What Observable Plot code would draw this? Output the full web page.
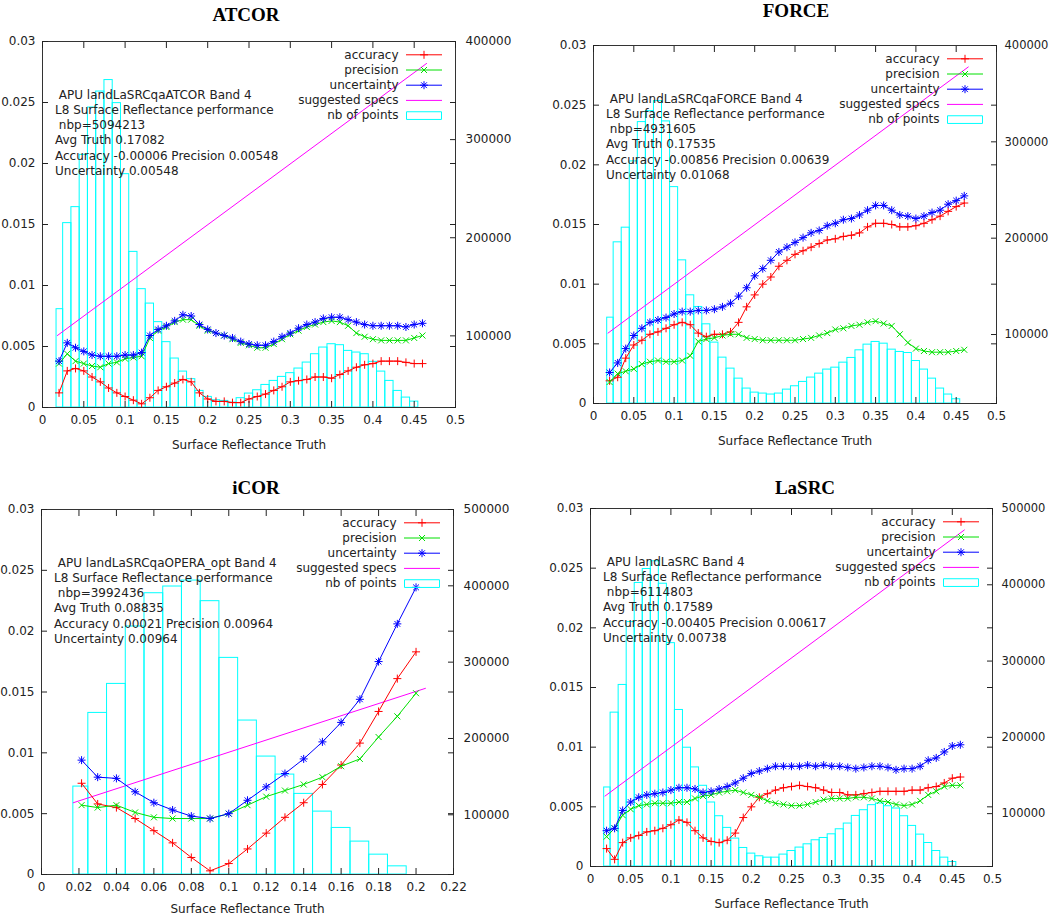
<!DOCTYPE html>
<html><head><meta charset="utf-8">
<script src="https://cdn.jsdelivr.net/npm/d3@7"></script>
<script src="https://cdn.jsdelivr.net/npm/@observablehq/plot@0.6"></script>
<style>
body{margin:0;background:#fff;}
#root{position:relative;width:1050px;height:917px;overflow:hidden;}
.panel{position:absolute;}
.panel svg{position:absolute;left:0;top:0;overflow:visible;}
.title{position:absolute;font-family:"Liberation Serif",serif;font-weight:bold;font-size:19px;transform:translate(-50%,-50%);white-space:nowrap;color:#000;}
</style></head><body><div id="root"></div>
<script>
// ---------- data ----------
const truthFull = [0.02,0.03,0.04,0.05,0.06,0.07,0.08,0.09,0.10,0.11,0.12,0.13,0.14,0.15,0.16,0.17,0.18,0.19,0.20,0.21,0.22,0.23,0.24,0.25,0.26,0.27,0.28,0.29,0.30,0.31,0.32,0.33,0.34,0.35,0.36,0.37,0.38,0.39,0.40,0.41,0.42,0.43,0.44,0.45,0.46];
const binsFull = [0.02,0.03,0.04,0.05,0.06,0.07,0.08,0.09,0.10,0.11,0.12,0.13,0.14,0.15,0.16,0.17,0.18,0.19,0.20,0.21,0.22,0.23,0.24,0.25,0.26,0.27,0.28,0.29,0.30,0.31,0.32,0.33,0.34,0.35,0.36,0.37,0.38,0.39,0.40,0.41,0.42,0.43,0.44,0.45];
const truthIcor = [0.0214,0.03,0.04,0.05,0.06,0.07,0.08,0.09,0.10,0.11,0.12,0.13,0.14,0.15,0.16,0.17,0.18,0.19,0.20];
const binsIcor = [0.02,0.03,0.04,0.05,0.06,0.07,0.08,0.09,0.10,0.11,0.12,0.13,0.14,0.15,0.16,0.17,0.18,0.19];

const atcorAccuracy = [0.0012,0.0030,0.0032,0.0030,0.0025,0.0021,0.0016,0.0012,0.0009,0.0006,0.0003,0.0008,0.0014,0.0017,0.0020,0.0023,0.0021,0.0012,0.0007,0.0005,0.0005,0.0004,0.0004,0.0007,0.0009,0.0011,0.0014,0.0017,0.0021,0.0022,0.0023,0.0025,0.0025,0.0024,0.0027,0.0030,0.0033,0.0035,0.0036,0.0038,0.0038,0.0038,0.0037,0.0036,0.0036];
const atcorPrecision = [0.0036,0.0044,0.0038,0.0036,0.0034,0.0033,0.0036,0.0037,0.0040,0.0041,0.0042,0.0057,0.0063,0.0066,0.0070,0.0072,0.0072,0.0067,0.0063,0.0061,0.0059,0.0056,0.0053,0.0051,0.0049,0.0049,0.0052,0.0056,0.0060,0.0063,0.0066,0.0068,0.0070,0.0071,0.0070,0.0067,0.0061,0.0058,0.0056,0.0055,0.0055,0.0055,0.0055,0.0057,0.0059];
const atcorUncertainty = [0.0038,0.0053,0.0049,0.0046,0.0043,0.0042,0.0042,0.0042,0.0043,0.0043,0.0045,0.0059,0.0064,0.0067,0.0071,0.0076,0.0075,0.0068,0.0064,0.0061,0.0059,0.0057,0.0054,0.0052,0.0051,0.0051,0.0054,0.0058,0.0061,0.0065,0.0068,0.0070,0.0073,0.0074,0.0074,0.0072,0.0070,0.0068,0.0067,0.0067,0.0067,0.0067,0.0066,0.0068,0.0069];
const atcorCount = [127200,214900,231200,284500,332700,349000,360700,337200,264800,185600,147600,132900,114000,93600,76900,63600,55900,43900,37800,34400,33700,32000,36500,41200,44600,50000,54100,58200,62000,66700,72800,81300,88100,91500,90500,84700,83000,81300,73500,63600,54100,43900,37100,33000];

const forceAccuracy = [0.0019,0.0022,0.0038,0.0049,0.0053,0.0058,0.0060,0.0063,0.0066,0.0068,0.0066,0.0059,0.0056,0.0058,0.0058,0.0060,0.0068,0.0081,0.0091,0.0100,0.0106,0.0115,0.0120,0.0125,0.0128,0.0131,0.0134,0.0137,0.0138,0.0140,0.0141,0.0143,0.0148,0.0151,0.0151,0.0150,0.0148,0.0148,0.0149,0.0151,0.0154,0.0157,0.0161,0.0165,0.0168];
const forcePrecision = [0.0018,0.0025,0.0027,0.0029,0.0033,0.0035,0.0036,0.0035,0.0035,0.0036,0.0040,0.0052,0.0054,0.0055,0.0057,0.0058,0.0058,0.0055,0.0054,0.0053,0.0053,0.0053,0.0053,0.0053,0.0054,0.0055,0.0057,0.0059,0.0062,0.0063,0.0065,0.0066,0.0068,0.0069,0.0067,0.0065,0.0058,0.0051,0.0046,0.0044,0.0043,0.0043,0.0043,0.0044,0.0045];
const forceUncertainty = [0.0026,0.0034,0.0046,0.0057,0.0063,0.0068,0.0070,0.0072,0.0075,0.0077,0.0077,0.0078,0.0078,0.0079,0.0081,0.0084,0.0090,0.0097,0.0107,0.0113,0.0120,0.0127,0.0131,0.0135,0.0139,0.0143,0.0145,0.0149,0.0151,0.0154,0.0155,0.0158,0.0162,0.0166,0.0166,0.0162,0.0158,0.0157,0.0155,0.0157,0.0160,0.0162,0.0167,0.0170,0.0174];
const forceCount = [117500,195700,210900,279700,320500,331900,342300,321200,253000,177000,140700,128600,110600,91600,76000,64600,54200,43900,39700,38700,37700,38700,42800,46300,50800,55300,59400,63600,65600,70800,75700,83600,89500,92300,90500,84300,81900,80800,72500,63600,54200,43900,37700,32800];

const icorAccuracy = [0.0075,0.0058,0.0055,0.0046,0.0036,0.0026,0.0014,0.0003,0.0009,0.0021,0.0034,0.0047,0.0059,0.0074,0.0090,0.0108,0.0134,0.0161,0.0183];
const icorPrecision = [0.0057,0.0055,0.0057,0.0051,0.0047,0.0046,0.0046,0.0046,0.0050,0.0057,0.0064,0.0069,0.0074,0.0080,0.0089,0.0095,0.0113,0.0130,0.0149];
const icorUncertainty = [0.0094,0.0080,0.0079,0.0068,0.0059,0.0053,0.0048,0.0046,0.0050,0.0061,0.0072,0.0083,0.0095,0.0109,0.0125,0.0144,0.0175,0.0206,0.0236];
const icorCount = [137000,233500,271500,346700,390300,399100,406900,379900,305600,223500,176300,152700,127400,104200,82800,64900,47800,32500];

const lasrcAccuracy = [0.0015,0.0006,0.0020,0.0024,0.0026,0.0029,0.0030,0.0032,0.0035,0.0039,0.0037,0.0030,0.0024,0.0021,0.0020,0.0022,0.0028,0.0041,0.0050,0.0058,0.0061,0.0064,0.0066,0.0067,0.0068,0.0067,0.0066,0.0064,0.0062,0.0062,0.0060,0.0060,0.0061,0.0062,0.0063,0.0063,0.0063,0.0063,0.0064,0.0064,0.0066,0.0067,0.0070,0.0074,0.0075];
const lasrcPrecision = [0.0025,0.0032,0.0043,0.0048,0.0051,0.0052,0.0053,0.0053,0.0053,0.0054,0.0054,0.0057,0.0059,0.0060,0.0062,0.0063,0.0064,0.0062,0.0060,0.0058,0.0055,0.0053,0.0052,0.0051,0.0051,0.0052,0.0054,0.0056,0.0057,0.0057,0.0057,0.0058,0.0058,0.0057,0.0055,0.0054,0.0052,0.0051,0.0052,0.0055,0.0060,0.0063,0.0067,0.0068,0.0068];
const lasrcUncertainty = [0.0030,0.0032,0.0047,0.0054,0.0058,0.0060,0.0061,0.0062,0.0064,0.0066,0.0066,0.0065,0.0062,0.0063,0.0065,0.0067,0.0070,0.0074,0.0078,0.0080,0.0082,0.0084,0.0084,0.0084,0.0084,0.0085,0.0084,0.0085,0.0084,0.0084,0.0083,0.0082,0.0083,0.0084,0.0084,0.0083,0.0081,0.0082,0.0082,0.0084,0.0089,0.0091,0.0096,0.0101,0.0102];
const lasrcCount = [134300,232400,268700,351100,402400,420700,430800,401400,323500,235900,186400,160600,136500,114600,96600,81300,67300,55000,47600,44100,42300,42300,46300,51000,55500,59800,65100,68100,72900,79500,87000,97000,104500,111100,113300,109700,106700,96600,83900,72500,61500,51000,42300,36600];

const specXFull = [0.018, 0.465];
const specYFull = [0.0059, 0.0282];
const specXIcor = [0.017, 0.205];
const specYIcor = [0.0059, 0.0153];

const xTicksFull = [0,0.05,0.1,0.15,0.2,0.25,0.3,0.35,0.4,0.45,0.5];
const xTicksIcor = [0,0.02,0.04,0.06,0.08,0.1,0.12,0.14,0.16,0.18,0.2,0.22];
const yTicks = [0,0.005,0.01,0.015,0.02,0.025,0.03];
const y2Ticks4 = [100000,200000,300000,400000];
const y2Ticks5 = [100000,200000,300000,400000,500000];

const titles = ["ATCOR","FORCE","iCOR","LaSRC"];
const legendLabels = ["accuracy","precision","uncertainty","suggested specs","nb of points"];
const xLabel = "Surface Reflectance Truth";
const notesAtcor = ["\u00a0APU landLaSRCqaATCOR Band 4","L8 Surface Reflectance performance","\u00a0nbp=5094213","Avg Truth 0.17082","Accuracy -0.00006 Precision 0.00548","Uncertainty 0.00548"];
const notesForce = ["\u00a0APU landLaSRCqaFORCE Band 4","L8 Surface Reflectance performance","\u00a0nbp=4931605","Avg Truth 0.17535","Accuracy -0.00856 Precision 0.00639","Uncertainty 0.01068"];
const notesIcor = ["\u00a0APU landLaSRCqaOPERA_opt Band 4","L8 Surface Reflectance performance","\u00a0nbp=3992436","Avg Truth 0.08835","Accuracy 0.00021 Precision 0.00964","Uncertainty 0.00964"];
const notesLasrc = ["\u00a0APU landLaSRC Band 4","L8 Surface Reflectance performance","\u00a0nbp=6114803","Avg Truth 0.17589","Accuracy -0.00405 Precision 0.00617","Uncertainty 0.00738"];

// ---------- layout ----------
const panels = [
  {title: titles[0], notes: notesAtcor, truth: truthFull, bins: binsFull, acc: atcorAccuracy, prec: atcorPrecision, unc: atcorUncertainty, count: atcorCount, specX: specXFull, specY: specYFull, xMax: 0.5, xTicks: xTicksFull, y2Domain: [27000, 400000], y2Ticks: y2Ticks4,
   left: 0, frame: [42, 41, 455, 407], titlePos: [246, 15], y2Pad: 16, y2Font: "12px", xLabelDy: 38},
  {title: titles[1], notes: notesForce, truth: truthFull, bins: binsFull, acc: forceAccuracy, prec: forcePrecision, unc: forceUncertainty, count: forceCount, specX: specXFull, specY: specYFull, xMax: 0.5, xTicks: xTicksFull, y2Domain: [28400, 400000], y2Ticks: y2Ticks4,
   left: 525, frame: [593, 45, 996, 403], titlePos: [796, 11], y2Pad: 14, y2Font: "11.5px", xLabelDy: 38},
  {title: titles[2], notes: notesIcor, truth: truthIcor, bins: binsIcor, acc: icorAccuracy, prec: icorPrecision, unc: icorUncertainty, count: icorCount, specX: specXIcor, specY: specYIcor, xMax: 0.22, xTicks: xTicksIcor, y2Domain: [21800, 500000], y2Ticks: y2Ticks5,
   left: 0, frame: [41, 509, 453, 874], titlePos: [256, 488], y2Pad: 16, y2Font: "12px", xLabelDy: 35},
  {title: titles[3], notes: notesLasrc, truth: truthFull, bins: binsFull, acc: lasrcAccuracy, prec: lasrcPrecision, unc: lasrcUncertainty, count: lasrcCount, specX: specXFull, specY: specYFull, xMax: 0.5, xTicks: xTicksFull, y2Domain: [30700, 500000], y2Ticks: y2Ticks5,
   left: 525, frame: [590, 508, 992, 866], titlePos: [805, 488], y2Pad: 15, y2Font: "11.5px", xLabelDy: 38}
];

const COLORS = {acc: "#ff0000", prec: "#00e000", unc: "#0000ff", spec: "#ff00ff", bars: "#00ffff"};
const symPlus = {draw(c, s){ const r = Math.sqrt(s/Math.PI); c.moveTo(-r,0); c.lineTo(r,0); c.moveTo(0,-r); c.lineTo(0,r); }};
const symTimes = {draw(c, s){ const r = Math.sqrt(s/Math.PI)*0.75; c.moveTo(-r,-r); c.lineTo(r,r); c.moveTo(-r,r); c.lineTo(r,-r); }};
const symStar = {draw(c, s){ const r = Math.sqrt(s/Math.PI); const q = r*0.72; c.moveTo(-r,0); c.lineTo(r,0); c.moveTo(0,-r); c.lineTo(0,r); c.moveTo(-q,-q); c.lineTo(q,q); c.moveTo(-q,q); c.lineTo(q,-q); }};
const symHLine = {draw(c, s){ const r = Math.sqrt(s/Math.PI); c.moveTo(-r,0); c.lineTo(r,0); }};
const symBox = {draw(c, s){ const r = Math.sqrt(s/Math.PI); c.rect(-r, -r*0.22, 2*r, r*0.44); }};
const fmt = d => d === 0 ? "0" : String(+d.toFixed(3));

const root = document.getElementById("root");
const W = 525;

for (const p of panels) {
  const top = p.frame[1] - 20;
  const H = p.frame[3] + 60 - top;
  const margins = {marginLeft: p.frame[0] - p.left, marginRight: p.left + W - p.frame[2], marginTop: 20, marginBottom: 60};
  const style = {background: "none", fontFamily: "DejaVu Sans", fontSize: "12px", color: "#222", overflow: "visible"};
  const div = document.createElement("div");
  div.className = "panel";
  Object.assign(div.style, {left: p.left + "px", top: top + "px", width: W + "px", height: H + "px"});

  const binT = p.bins.map((c, i) => ({x1: i === 0 ? 0.017 : c - 0.005, x2: c + 0.005, n: p.count[i]}));
  const bars = Plot.plot({
    width: W, height: H, ...margins, style,
    x: {domain: [0, p.xMax], axis: null, label: null},
    y: {domain: p.y2Domain, axis: null, label: null},
    marks: [
      Plot.rectY(binT, {x1: "x1", x2: "x2", y1: p.y2Domain[0], y2: "n", fill: "none", stroke: COLORS.bars, strokeWidth: 1}),
      Plot.axisY({anchor: "right", ticks: p.y2Ticks, tickSize: -6, tickPadding: p.y2Pad, tickFormat: "d", label: null, fontSize: p.y2Font})
    ]
  });

  const rows = key => p.truth.map((x, i) => ({x, v: p[key][i]}));
  const specT = p.specX.map((x, i) => ({x, v: p.specY[i]}));
  const series = [["acc", symPlus, 4], ["prec", symTimes, 4], ["unc", symStar, 4]];
  const marks = [
    Plot.line(specT, {x: "x", y: "v", stroke: COLORS.spec, strokeWidth: 1})
  ];
  for (const [k, sym, r] of series) {
    marks.push(Plot.line(rows(k), {x: "x", y: "v", stroke: COLORS[k], strokeWidth: 1}));
    marks.push(Plot.dot(rows(k), {x: "x", y: "v", symbol: sym, r, stroke: COLORS[k], fill: "none", strokeWidth: 1}));
  }
  // annotation block
  marks.push(Plot.text([p.notes.join("\n")], {text: d => d, frameAnchor: "top-left", dx: 12.5, dy: 46.5, lineAnchor: "top", textAnchor: "start", lineHeight: 1.267, fill: "#222"}));
  // legend
  const legendKeys = ["acc", "prec", "unc", "spec", "bars"];
  const legendSyms = [symPlus, symTimes, symStar, null, null];
  legendLabels.forEach((lab, i) => {
    const dy = 13.3 + 15.2 * i;
    marks.push(Plot.text([lab], {text: d => d, frameAnchor: "top-right", dx: -57, dy, textAnchor: "end", lineAnchor: "middle", fill: "#222"}));
    if (i < 4) marks.push(Plot.dot([lab], {frameAnchor: "top-right", dx: -31.5, dy, symbol: symHLine, r: 18, stroke: COLORS[legendKeys[i]], fill: "none", strokeWidth: 1}));
    else marks.push(Plot.dot([lab], {frameAnchor: "top-right", dx: -31.5, dy, symbol: symBox, r: 17.5, stroke: COLORS.bars, fill: "none", strokeWidth: 1}));
    if (legendSyms[i]) marks.push(Plot.dot([lab], {frameAnchor: "top-right", dx: -31.5, dy, symbol: legendSyms[i], r: 4, stroke: COLORS[legendKeys[i]], fill: "none", strokeWidth: 1}));
  });
  marks.push(Plot.text([xLabel], {text: d => d, frameAnchor: "bottom", dy: p.xLabelDy, lineAnchor: "middle", fill: "#222"}));
  marks.push(Plot.frame({stroke: "#333", strokeWidth: 1}));
  marks.push(Plot.axisY({anchor: "left", ticks: yTicks, tickSize: -6, tickPadding: 13, tickFormat: fmt, label: null}));
  marks.push(Plot.axisY({anchor: "right", ticks: yTicks, tickSize: -6, tickFormat: () => "", label: null}));
  marks.push(Plot.axisX({anchor: "bottom", ticks: p.xTicks, tickSize: -6, tickPadding: 14, tickFormat: fmt, label: null}));
  marks.push(Plot.axisX({anchor: "top", ticks: p.xTicks, tickSize: -6, tickFormat: () => "", label: null}));

  const lines = Plot.plot({
    width: W, height: H, ...margins, style,
    x: {domain: [0, p.xMax], axis: null, label: null},
    y: {domain: [0, 0.03], axis: null, label: null},
    marks
  });
  div.appendChild(bars);
  div.appendChild(lines);
  root.appendChild(div);

  const t = document.createElement("div");
  t.className = "title";
  t.textContent = p.title;
  Object.assign(t.style, {left: p.titlePos[0] + "px", top: p.titlePos[1] + "px"});
  root.appendChild(t);
}
</script></body></html>
